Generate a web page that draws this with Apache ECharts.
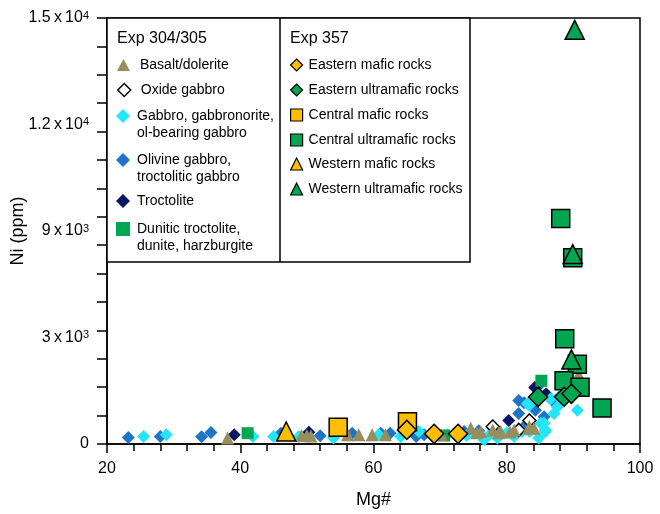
<!DOCTYPE html>
<html><head><meta charset="utf-8">
<script src="https://cdn.jsdelivr.net/npm/echarts@6/dist/echarts.min.js"></script>
<style>html,body{margin:0;padding:0;background:#fff}#c{width:660px;height:514px}</style>
</head><body><div id="c"></div>
<script>
// ---------- data (Mg#, Ni ppm) ----------
const olivineGabbro = [[23.2,232],[28.0,266],[34.2,253],[35.6,404],[46.1,381],[52.0,288],[56.8,381],[61.1,381],[62.5,381],[66.4,266],[67.6,322],[73.6,440],[75.8,470],[77.9,560],[81.8,1074],[81.8,1535],[82.6,1450],[84.3,1188],[85.1,2120],[85.6,960],[86.8,1535],[83.0,700]];
const troctolite = [[39.1,322],[50.3,415],[80.3,830],[84.2,1990],[85.9,1767]];
const gabbro = [[25.5,266],[28.9,322],[41.9,266],[45.0,266],[48.8,266],[54.0,208],[60.8,322],[64.1,266],[66.8,439],[71.1,322],[74.0,300],[76.6,150],[77.5,350],[78.6,208],[80.0,400],[81.1,266],[82.3,439],[83.1,1420],[83.4,1361],[83.4,439],[84.8,208],[85.1,727],[85.6,727],[85.8,439],[85.8,497],[86.6,1594],[87.1,1074],[87.6,1306],[87.8,1652],[90.6,1188]];
const dunitic = [[41.1,381],[70.6,300],[85.2,2228]];
const oxideGabbro = [[77.9,613],[81.8,497],[83.4,830]];
const basalt = [[38.1,208],[49.2,300],[50.0,300],[50.6,280],[56.1,322],[57.8,322],[59.8,322],[61.8,322],[70.2,330],[74.6,554],[75.5,400],[76.1,439],[77.9,497],[78.8,400],[79.1,439],[80.5,420],[81.1,497],[83.4,613],[83.4,554],[84.1,554],[90.8,2450]];
const centralUltramafic = [[88.1,7943],[89.9,6558],[88.7,3707],[90.6,2806],[88.6,2228],[91.0,1998],[94.3,1271]];
const easternUltramafic = [[84.7,1652],[88.6,1663],[89.7,1767]];
const westernUltramafic = [[90.2,14584],[89.9,6686],[89.7,2979]];
const centralMafic = [[54.7,589],[65.1,785]];
const easternMafic = [[65.0,497],[69.1,358],[72.7,358]];
const westernMafic = [[46.9,440]];

// ---------- tick labels ----------
const xTickValues = [20,40,60,80,100];
const yLabelValues = [0,3750,7500,11250,15000];
const yLabelBase = ['0','3\u2009x\u200910','9\u2009x\u200910','1.2\u2009x\u200910','1.5\u2009x\u200910'];
const yLabelExp = ['','3','3','4','4'];

const FONT = 'Liberation Sans, Arial, Helvetica, sans-serif';
const C = {olive:'#978E60', cyan:'#22E6F7', blue:'#1F74C6', navy:'#0B1566', green:'#00A651', amber:'#FFBF00'};

const names = {
  basalt:'Basalt/dolerite', oxide:'Oxide gabbro', gabbro:'Gabbro, gabbronorite, ol-bearing gabbro',
  olivine:'Olivine gabbro, troctolitic gabbro', troct:'Troctolite', dunitic:'Dunitic troctolite, dunite, harzburgite',
  eMafic:'Eastern mafic rocks', eUltra:'Eastern ultramafic rocks', cMafic:'Central mafic rocks',
  cUltra:'Central ultramafic rocks', wMafic:'Western mafic rocks', wUltra:'Western ultramafic rocks'
};
const legendLines = {};
legendLines[names.gabbro] = ['Gabbro, gabbronorite,','ol-bearing gabbro'];
legendLines[names.olivine] = ['Olivine gabbro,','troctolitic gabbro'];
legendLines[names.dunitic] = ['Dunitic troctolite,','dunite, harzburgite'];

function sc(name, data, symbol, size, color, bw) {
  return {type:'scatter', name, data, symbol, symbolSize:size, xAxisIndex:0, yAxisIndex:0,
    itemStyle:{color, borderColor:'#000', borderWidth:bw, opacity:1},
    emphasis:{disabled:true}, animation:false};
}

const series = [
  sc(names.olivine, olivineGabbro, 'diamond', 13, C.blue, 0),
  sc(names.troct, troctolite, 'diamond', 13, C.navy, 0),
  sc(names.gabbro, gabbro, 'diamond', 13, C.cyan, 0),
  sc(names.dunitic, dunitic, 'rect', 12, C.green, 0),
  sc(names.oxide, oxideGabbro, 'diamond', 13, '#fff', 1.5),
  sc(names.basalt, basalt, 'triangle', 13, C.olive, 0),
  sc(names.cUltra, centralUltramafic, 'rect', 18, C.green, 1.5),
  sc(names.eUltra, easternUltramafic, 'diamond', 19, C.green, 1.5),
  sc(names.wUltra, westernUltramafic, 'triangle', 19, C.green, 1.5),
  sc(names.cMafic, centralMafic, 'rect', 18, C.amber, 1.5),
  sc(names.eMafic, easternMafic, 'diamond', 19, C.amber, 1.5),
  sc(names.wMafic, westernMafic, 'triangle', 19, C.amber, 1.5)
];

const LH = 17;
function lg(name, cx, cy, w, h, bw, textStart) {
  const two = !!legendLines[name];
  const left = cx - w/2;
  const pad = Math.max(0, textStart - (left + w + 5));
  return {
    data:[name], orient:'vertical', padding:0, selectedMode:false,
    left: left, top: two ? cy - 1.5*LH : cy - LH/2,
    itemWidth:w, itemHeight:h,
    itemStyle:{borderColor:'#000', borderWidth:bw},
    textStyle:{fontSize:14, fontFamily:FONT, color:'#000', lineHeight:LH, padding:[0,0,0,pad]},
    formatter: function(n){ return legendLines[n] ? '\n' + legendLines[n][0] + '\n' + legendLines[n][1] : n; }
  };
}
const legends = [
  lg(names.basalt, 123.5, 65, 13, 12, 0, 140),
  lg(names.oxide, 123.5, 90, 13, 13, 1.5, 140),
  lg(names.gabbro, 123, 116, 14, 14, 0, 137),
  lg(names.olivine, 123, 160, 14, 14, 0, 137),
  lg(names.troct, 123, 201, 14, 14, 0, 137),
  lg(names.dunitic, 123, 229, 14, 14, 0, 137),
  lg(names.eMafic, 296, 65, 12, 12, 1.2, 308),
  lg(names.eUltra, 296, 90, 12, 12, 1.2, 308),
  lg(names.cMafic, 296, 115, 12, 12, 1.2, 308),
  lg(names.cUltra, 296, 140, 12, 12, 1.2, 308),
  lg(names.wMafic, 296, 164, 12, 12, 1.2, 308),
  lg(names.wUltra, 296, 189, 12, 12, 1.2, 308)
];

const axisLineStyle = {color:'#000', width:1.5};
const option = {
  animation:false,
  backgroundColor:'#fff',
  textStyle:{fontFamily:FONT},
  grid:{left:107, right:20, top:18, bottom:63, show:true, borderColor:'#000', borderWidth:1.5, containLabel:false},
  xAxis:{type:'value', min:20, max:100, interval:20,
    axisLine:{lineStyle:axisLineStyle}, axisTick:{length:9, lineStyle:axisLineStyle},
    minorTick:{show:true, splitNumber:5, length:7, lineStyle:axisLineStyle},
    splitLine:{show:false}, minorSplitLine:{show:false},
    axisLabel:{fontSize:16, color:'#000', margin:17, fontFamily:FONT,
      formatter:function(v){ return xTickValues.indexOf(v) >= 0 ? String(v) : ''; }},
    name:'Mg#', nameLocation:'middle', nameGap:47, nameTextStyle:{fontSize:18, color:'#000', fontFamily:FONT}
  },
  yAxis:[
    {type:'value', min:0, max:15000, interval:1000, position:'left',
      axisLine:{lineStyle:axisLineStyle}, axisTick:{length:10, lineStyle:axisLineStyle},
      axisLabel:{show:false}, splitLine:{show:false},
      name:'Ni (ppm)', nameLocation:'middle', nameGap:80, nameRotate:90,
      nameTextStyle:{fontSize:18, color:'#000', fontFamily:FONT}},
    {type:'value', min:0, max:15000, interval:3750, position:'left', offset:0,
      axisLine:{show:false}, axisTick:{show:false}, splitLine:{show:false},
      axisLabel:{show:true, showMinLabel:true, showMaxLabel:true, margin:18, color:'#000',
        formatter:function(v){ const i = yLabelValues.indexOf(v); if (i < 0) return '';
          return yLabelExp[i] ? '{b|' + yLabelBase[i] + '}{s|' + yLabelExp[i] + '}' : '{b|' + yLabelBase[i] + '}'; },
        rich:{ b:{fontSize:16, fontFamily:FONT, color:'#000', lineHeight:16},
               s:{fontSize:11, fontFamily:FONT, color:'#000', lineHeight:11, verticalAlign:'top'} } }}
  ],
  legend: legends,
  graphic:[
    {type:'rect', z:3, shape:{x:107, y:18, width:363, height:244}, style:{fill:'#fff', stroke:'#000', lineWidth:1.5}},
    {type:'line', z:3, shape:{x1:280, y1:18, x2:280, y2:262}, style:{stroke:'#000', lineWidth:1.5}},
    {type:'text', z:3, x:117, y:39, style:{text:'Exp 304/305', fontSize:16, fontFamily:FONT, fill:'#000', verticalAlign:'middle'}},
    {type:'text', z:3, x:290, y:39, style:{text:'Exp 357', fontSize:16, fontFamily:FONT, fill:'#000', verticalAlign:'middle'}}
  ],
  series: series
};
const chart = echarts.init(document.getElementById('c'), null, {renderer:'canvas'});
chart.setOption(option);
</script>
</body></html>
